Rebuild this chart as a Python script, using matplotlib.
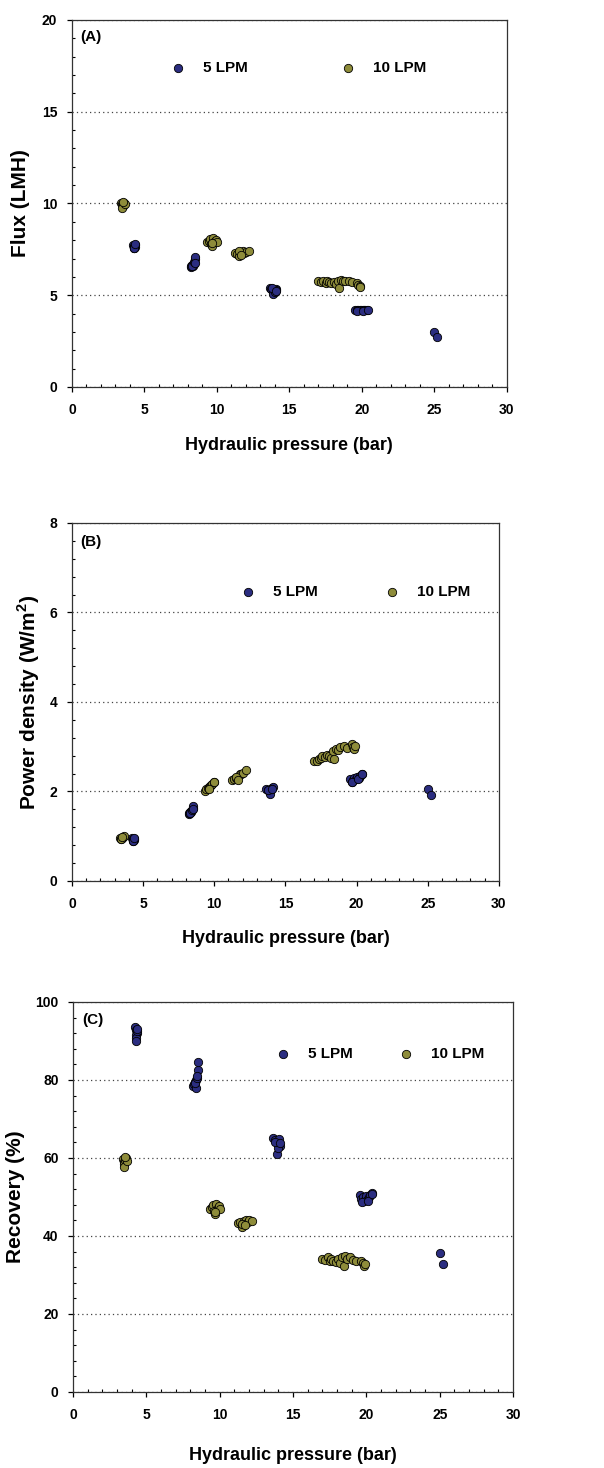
import matplotlib
matplotlib.use('Agg')
import matplotlib.pyplot as plt
from matplotlib.ticker import MultipleLocator

plt.rcParams['font.family'] = ['Liberation Sans', 'DejaVu Sans']
plt.rcParams['font.weight'] = 'bold'
plt.rcParams['mathtext.fontset'] = 'custom'
plt.rcParams['mathtext.rm'] = 'Liberation Sans:bold'
plt.rcParams['mathtext.bf'] = 'Liberation Sans:bold'

# 5 LPM feed flow: pressure (bar), flux (LMH), power density (W/m2), recovery (%)
pressure_5 = [4.25, 4.30, 4.35, 4.28, 4.32, 4.38, 4.26, 4.33,
              8.20, 8.25, 8.30, 8.35, 8.40, 8.28, 8.45, 8.50, 8.52, 8.48,
              13.65, 13.75, 13.85, 13.95, 14.05, 14.10, 13.90, 14.00, 13.80, 14.08,
              19.55, 19.65, 19.75, 19.85, 19.95, 20.05, 20.15, 20.25, 20.35, 19.70, 20.10, 20.40,
              25.0, 25.2]
flux_5 = [7.75, 7.70, 7.65, 7.60, 7.55, 7.72, 7.58, 7.80,
          6.55, 6.60, 6.65, 6.60, 6.70, 6.58, 6.80, 6.95, 7.10, 6.75,
          5.40, 5.35, 5.30, 5.25, 5.35, 5.30, 5.05, 5.20, 5.38, 5.25,
          4.22, 4.18, 4.20, 4.17, 4.22, 4.18, 4.20, 4.22, 4.20, 4.15, 4.15, 4.22,
          3.0, 2.75]
power_5 = [0.95, 0.93, 0.92, 0.91, 0.90, 0.94, 0.90, 0.95,
           1.50, 1.52, 1.53, 1.55, 1.56, 1.51, 1.58, 1.63, 1.68, 1.60,
           2.05, 2.03, 2.02, 2.00, 2.08, 2.10, 1.95, 2.05, 2.04, 2.06,
           2.28, 2.22, 2.25, 2.30, 2.27, 2.32, 2.30, 2.35, 2.38, 2.20, 2.28, 2.40,
           2.05, 1.92]
recovery_5 = [93.5, 92.8, 92.0, 91.5, 90.8, 92.5, 90.0, 93.0,
              78.5, 79.0, 79.5, 78.0, 80.0, 79.2, 80.5, 82.5, 84.5, 81.0,
              65.0, 64.5, 64.0, 63.5, 64.8, 63.0, 61.0, 62.5, 64.2, 63.8,
              50.5, 49.5, 50.0, 49.0, 50.2, 49.3, 50.0, 50.5, 51.0, 48.8, 48.9, 50.8,
              35.5, 32.8]

# 10 LPM feed flow
pressure_10 = [3.40, 3.45, 3.50, 3.55, 3.60, 3.48, 3.65, 3.52,
               9.35, 9.45, 9.55, 9.60, 9.70, 9.75, 9.85, 9.95, 10.00, 9.65,
               11.25, 11.40, 11.55, 11.65, 11.80, 11.90, 12.00, 12.20, 11.50, 11.70,
               17.00, 17.20, 17.35, 17.50, 17.60, 17.75, 17.90, 18.05, 18.20, 18.35,
               18.45, 18.55, 18.70, 18.85, 19.10, 19.30, 19.65, 19.75, 19.85, 19.90]
flux_10 = [10.05, 9.95, 9.85, 9.90, 10.00, 9.75, 9.95, 10.10,
           7.90, 7.95, 8.05, 7.80, 7.70, 8.10, 7.95, 8.00, 7.90, 7.85,
           7.30, 7.25, 7.15, 7.35, 7.40, 7.30, 7.35, 7.40, 7.40, 7.20,
           5.75, 5.70, 5.80, 5.65, 5.78, 5.70, 5.65, 5.72, 5.60, 5.80,
           5.40, 5.85, 5.75, 5.80, 5.75, 5.70, 5.65, 5.55, 5.50, 5.45]
power_10 = [0.95, 0.94, 0.96, 0.97, 0.98, 0.93, 1.00, 0.99,
            2.02, 2.05, 2.08, 2.10, 2.12, 2.15, 2.17, 2.20, 2.22, 2.06,
            2.25, 2.28, 2.30, 2.33, 2.38, 2.40, 2.42, 2.48, 2.32, 2.26,
            2.67, 2.68, 2.72, 2.75, 2.80, 2.78, 2.82, 2.80, 2.75, 2.90,
            2.72, 2.95, 2.93, 3.00, 3.02, 2.98, 3.05, 3.00, 2.95, 3.02]
recovery_10 = [59.8, 59.0, 58.5, 59.5, 60.0, 57.8, 59.2, 60.2,
               47.0, 47.5, 48.0, 46.5, 45.5, 48.2, 47.2, 47.8, 46.8, 46.2,
               43.2, 43.5, 42.3, 43.8, 44.0, 43.5, 44.2, 43.8, 43.0, 42.8,
               34.0, 33.8, 34.5, 33.5, 34.2, 33.6, 33.2, 34.0, 33.0, 34.5,
               32.2, 34.8, 34.0, 34.6, 33.8, 33.5, 33.5, 33.0, 32.2, 32.8]

c5 = '#2b2d80'
c10 = '#8e8c3a'

fig = plt.figure(figsize=(6.04, 14.68), dpi=100)

panels = [
    # rect, y data, ymax, major, minor, ylabel, ylabel x, xlabel y, tag, tag y, legend anchor, colspacing
    ([0.119, 0.7364, 0.720, 0.250], flux_5, flux_10, 20, 5, 1,
     'Flux (LMH)', -0.097, -0.136, '(A)', 0.954, (0.226, 0.869), 6.1),
    ([0.119, 0.3999, 0.707, 0.2439], power_5, power_10, 8, 2, 0.4,
     r'Power density (W/m$^{2}$)', -0.070, -0.137, '(B)', 0.947, (0.394, 0.807), 4.4),
    ([0.121, 0.0518, 0.7285, 0.2657], recovery_5, recovery_10, 100, 20, 4,
     'Recovery (%)', -0.109, -0.141, '(C)', 0.954, (0.460, 0.867), 2.95),
]

for rect, y5, y10, ymax, major, minor, ylab, ylx, xly, tag, tagy, anchor, colsp in panels:
    ax = fig.add_axes(rect)
    ax.scatter(pressure_5, y5, s=36, color=c5, edgecolors='black', linewidths=0.6,
               label='5 LPM', zorder=3)
    ax.scatter(pressure_10, y10, s=36, color=c10, edgecolors='black', linewidths=0.6,
               label='10 LPM', zorder=3)
    ax.set_xlim(0, 30)
    ax.set_ylim(0, ymax)
    ax.xaxis.set_major_locator(MultipleLocator(5))
    ax.xaxis.set_minor_locator(MultipleLocator(1))
    ax.yaxis.set_major_locator(MultipleLocator(major))
    ax.yaxis.set_minor_locator(MultipleLocator(minor))
    ax.tick_params(which='major', direction='out', length=3.5, width=0.9,
                   labelsize=10)
    ax.tick_params(axis='x', which='major', pad=8)
    ax.tick_params(axis='y', which='major', pad=7)
    ax.tick_params(which='minor', direction='in', length=2.5, width=0.8)
    for lab in ax.get_xticklabels() + ax.get_yticklabels():
        lab.set_fontweight('bold')
    for sp in ax.spines.values():
        sp.set_linewidth(0.9)
        sp.set_color('#333333')
    ax.yaxis.grid(True, which='major', linestyle=(0, (1, 2.5)), color='#444444',
                  linewidth=0.9)
    ax.set_axisbelow(True)

    ax.set_xlabel('Hydraulic pressure (bar)', fontsize=13, fontweight='bold')
    ax.xaxis.set_label_coords(0.5, xly)
    ax.xaxis.label.set_va('top')
    ax.set_ylabel(ylab, fontsize=15, fontweight='bold')
    ax.yaxis.set_label_coords(ylx, 0.5)

    ax.text(0.02, tagy, tag, transform=ax.transAxes, fontsize=11,
            fontweight='bold', va='center', ha='left')

    ax.legend(loc='center left', bbox_to_anchor=anchor, ncol=2, frameon=False,
              handlelength=1.0, handletextpad=1.14,
              columnspacing=colsp, borderpad=0, borderaxespad=0,
              prop={'weight': 'bold', 'size': 11})

fig.savefig('out.png', dpi=100)
